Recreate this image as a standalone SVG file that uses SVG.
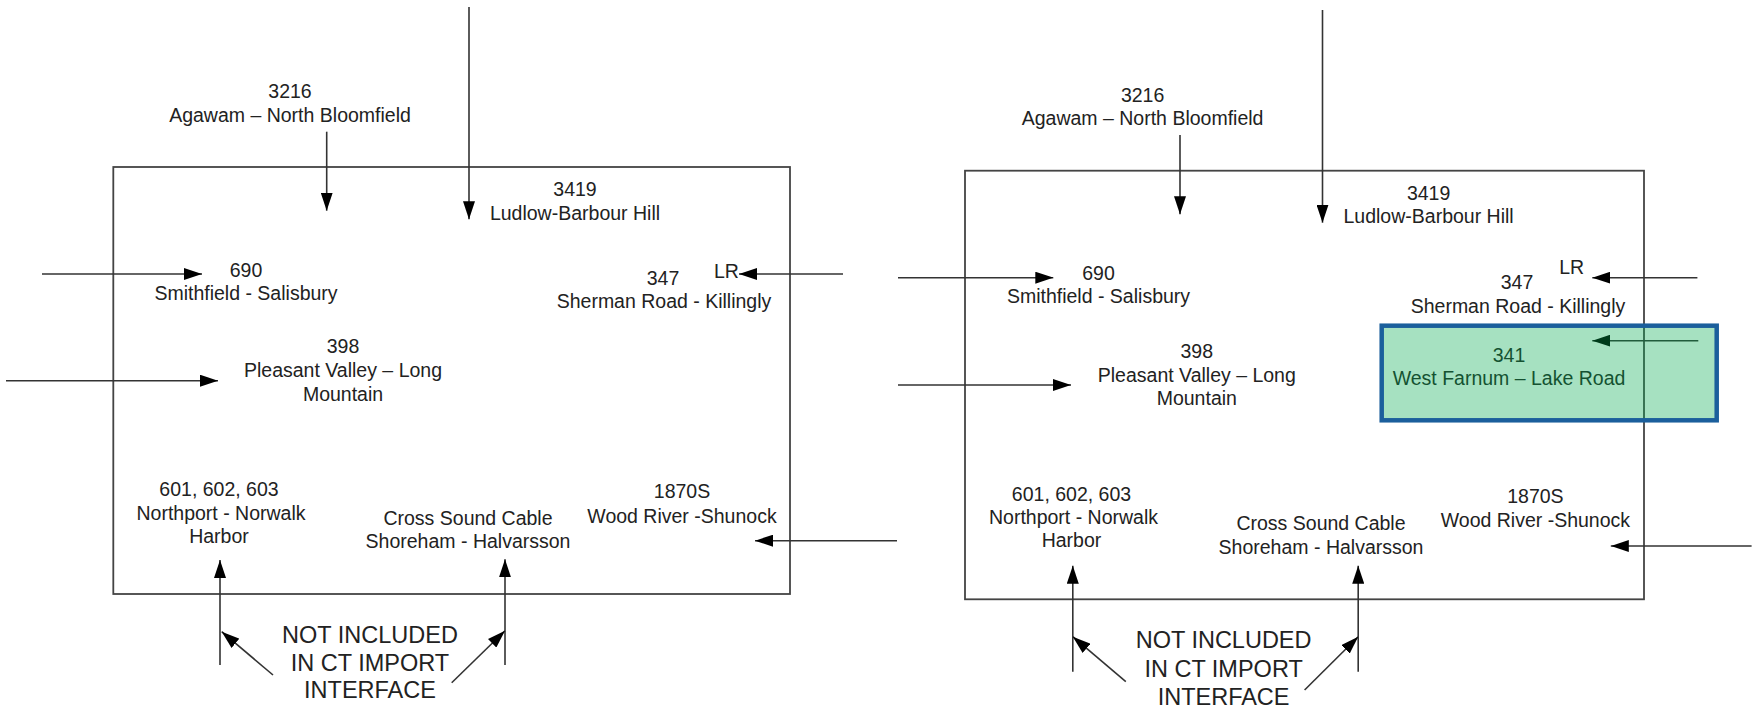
<svg xmlns="http://www.w3.org/2000/svg" width="1756" height="708" viewBox="0 0 1756 708">
<style>
  text { font-family: "Liberation Sans", Arial, sans-serif; font-size: 19.5px; fill: #222; text-anchor: middle; }
  text.big { font-size: 23.5px; }
  .frame { fill: none; stroke: #444; stroke-width: 1.8; }
  .c { fill: none; stroke: #333; stroke-width: 1.6; marker-end: url(#ah); }
</style>
<defs>
  <marker id="ah" markerUnits="userSpaceOnUse" markerWidth="18" markerHeight="12" refX="18" refY="6" orient="auto" viewBox="0 0 18 12">
    <path d="M0,0 L18,6 L0,12 z" fill="#000"/>
  </marker>
</defs>
<rect width="1756" height="708" fill="#fff"/>

<g id="frame-left"><rect class="frame" x="113.3" y="167" width="676.7" height="427"/></g>
<g id="frame-right"><rect class="frame" x="965" y="170.7" width="679" height="428.6"/></g>

<g id="connectors">
  <line class="c" x1="469" y1="7" x2="469" y2="219.3"/>
  <line class="c" x1="326.7" y1="131.7" x2="326.7" y2="210.7"/>
  <line class="c" x1="42" y1="274" x2="202" y2="274"/>
  <line class="c" x1="843" y1="274" x2="739" y2="274"/>
  <line class="c" x1="6" y1="380.7" x2="218" y2="380.7"/>
  <line class="c" x1="897" y1="540.7" x2="755" y2="540.7"/>
  <line class="c" x1="220" y1="665" x2="220" y2="560"/>
  <line class="c" x1="505" y1="665" x2="505" y2="559.3"/>
  <line class="c" x1="273" y1="675" x2="221.7" y2="631.7"/>
  <line class="c" x1="451.7" y1="682.7" x2="505" y2="630.7"/>

  <line class="c" x1="1322.5" y1="10" x2="1322.5" y2="222.7"/>
  <line class="c" x1="1180" y1="135" x2="1180" y2="214.3"/>
  <line class="c" x1="898" y1="277.7" x2="1053.3" y2="277.7"/>
  <line class="c" x1="1697.4" y1="277.7" x2="1592.3" y2="277.7"/>
  <line class="c" x1="1698.3" y1="340.7" x2="1592.3" y2="340.7"/>
  <line class="c" x1="898" y1="385" x2="1071" y2="385"/>
  <line class="c" x1="1751.6" y1="546" x2="1610.8" y2="546"/>
  <line class="c" x1="1072.8" y1="671.7" x2="1072.8" y2="565.7"/>
  <line class="c" x1="1358.2" y1="671.7" x2="1358.2" y2="565.7"/>
  <line class="c" x1="1125.8" y1="681.7" x2="1072.8" y2="636.7"/>
  <line class="c" x1="1304.6" y1="690" x2="1358.2" y2="636.7"/>
</g>

<g id="l-3216"><text x="290" y="98">3216</text><text x="290" y="122">Agawam – North Bloomfield</text></g>
<g id="l-3419"><text x="575" y="195.7">3419</text><text x="575" y="220">Ludlow-Barbour Hill</text></g>
<g id="l-690"><text x="246" y="276.7">690</text><text x="246" y="300">Smithfield - Salisbury</text></g>
<g id="l-lr"><text x="714" y="278.3" style="text-anchor:start">LR</text></g>
<g id="l-347"><text x="663" y="285">347</text><text x="664" y="308">Sherman Road - Killingly</text></g>
<g id="l-398"><text x="343" y="353">398</text><text x="343" y="376.7">Pleasant Valley – Long</text><text x="343" y="400.7">Mountain</text></g>
<g id="l-601"><text x="219" y="495.7">601, 602, 603</text><text x="221" y="520">Northport - Norwalk</text><text x="219" y="542.7">Harbor</text></g>
<g id="l-csc"><text x="468" y="525">Cross Sound Cable</text><text x="468" y="548.3">Shoreham - Halvarsson</text></g>
<g id="l-1870"><text x="682" y="498.3">1870S</text><text x="682" y="522.7">Wood River -Shunock</text></g>
<g id="l-note"><text class="big" x="370" y="643">NOT INCLUDED</text><text class="big" x="370" y="670.5">IN CT IMPORT</text><text class="big" x="370" y="698">INTERFACE</text></g>

<g id="r-3216"><text x="1142.6" y="101.7">3216</text><text x="1142.6" y="125">Agawam – North Bloomfield</text></g>
<g id="r-3419"><text x="1428.6" y="200">3419</text><text x="1428.6" y="223.3">Ludlow-Barbour Hill</text></g>
<g id="r-690"><text x="1098.5" y="280">690</text><text x="1098.5" y="303">Smithfield - Salisbury</text></g>
<g id="r-lr"><text x="1571.7" y="274">LR</text></g>
<g id="r-347"><text x="1517" y="288.5">347</text><text x="1518" y="312.5">Sherman Road - Killingly</text></g>
<g id="r-341"><text x="1509" y="361.7">341</text><text x="1509" y="385">West Farnum – Lake Road</text></g>
<g id="r-398"><text x="1196.8" y="357.5">398</text><text x="1196.8" y="381.5">Pleasant Valley – Long</text><text x="1196.8" y="405">Mountain</text></g>
<g id="r-601"><text x="1071.5" y="500.7">601, 602, 603</text><text x="1073.5" y="524.3">Northport - Norwalk</text><text x="1071.5" y="547.3">Harbor</text></g>
<g id="r-csc"><text x="1321" y="530">Cross Sound Cable</text><text x="1321" y="554">Shoreham - Halvarsson</text></g>
<g id="r-1870"><text x="1535.4" y="503.3">1870S</text><text x="1535.4" y="527.3">Wood River -Shunock</text></g>
<g id="r-note"><text class="big" x="1223.6" y="648.3">NOT INCLUDED</text><text class="big" x="1223.6" y="676.7">IN CT IMPORT</text><text class="big" x="1223.6" y="704.5">INTERFACE</text></g>

<g id="r-highlight"><rect x="1381.7" y="325.7" width="335" height="94.6" fill="#00A94E" fill-opacity="0.35" stroke="#1B5F9C" stroke-width="4.5"/></g>
</svg>
